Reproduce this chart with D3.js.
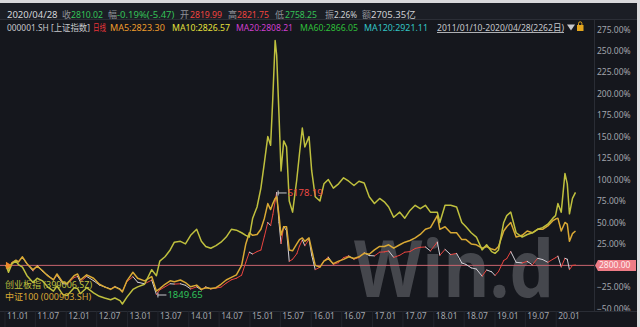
<!DOCTYPE html>
<html>
<head>
<meta charset="utf-8">
<script src="https://cdnjs.cloudflare.com/ajax/libs/d3/7.8.5/d3.min.js"></script>
<style>
  html, body { margin: 0; padding: 0; background: #15171d; }
  svg { display: block; }
  text { font-family: "Noto Sans", "Noto Sans CJK SC", sans-serif; }
</style>
</head>
<body>
<div class="chart"></div>
<script>
// Sample dates (roughly monthly, plus turning points)
const dates = [
  "2011-01-10","2011-01-25","2011-02-15","2011-03-10","2011-03-25","2011-04-18","2011-05-15","2011-06-20",
  "2011-07-15","2011-08-15","2011-09-15","2011-10-20","2011-11-10","2011-12-15","2012-01-10","2012-02-20",
  "2012-03-12","2012-03-28","2012-05-05","2012-06-15","2012-07-20","2012-08-20","2012-09-25","2012-10-20",
  "2012-11-20","2012-12-04","2012-12-31","2013-02-05","2013-03-05","2013-04-15","2013-05-28","2013-06-25",
  "2013-07-15","2013-08-15","2013-09-15","2013-10-10","2013-11-15","2013-12-15","2014-01-15","2014-02-20",
  "2014-03-20","2014-04-15","2014-05-15","2014-06-15","2014-07-15","2014-08-15","2014-09-15","2014-10-15",
  "2014-11-15","2014-12-10","2014-12-31","2015-01-20","2015-02-15","2015-03-10","2015-03-31","2015-04-20",
  "2015-05-07","2015-05-20","2015-06-03","2015-06-12","2015-06-26","2015-07-08","2015-07-24","2015-08-10",
  "2015-08-26","2015-09-15","2015-10-10","2015-10-26","2015-11-12","2015-11-27","2015-12-22","2016-01-07",
  "2016-01-28","2016-02-25","2016-03-20","2016-04-15","2016-05-15","2016-06-15","2016-07-15","2016-08-15",
  "2016-09-15","2016-10-15","2016-11-15","2016-12-15","2017-01-15","2017-02-15","2017-03-15","2017-04-10",
  "2017-05-10","2017-06-15","2017-07-15","2017-08-15","2017-09-15","2017-10-15","2017-11-15","2017-12-15",
  "2018-01-25","2018-02-09","2018-03-12","2018-04-15","2018-05-20","2018-06-20","2018-07-15","2018-08-15",
  "2018-09-15","2018-10-19","2018-11-15","2018-12-15","2019-01-04","2019-01-25","2019-02-25","2019-03-15",
  "2019-04-08","2019-05-10","2019-06-15","2019-07-15","2019-08-15","2019-09-15","2019-10-15","2019-11-15",
  "2019-12-15","2019-12-31","2020-01-14","2020-02-03","2020-02-25","2020-03-10","2020-03-23","2020-04-10",
  "2020-04-28"
];

// 创业板指 (399006.SZ), % change
const cybPct = [
  0, -8, 2, 5, 1, -2, -12, -20,
  -15, -18, -25, -30, -24, -34, -35, -26,
  -27, -33, -26, -32, -36, -38, -40, -38,
  -41, -45, -37, -28, -25, -22, -5, -12,
  5, 10, 18, 27, 28, 25, 35, 42,
  28, 22, 20, 23, 27, 33, 42, 41,
  38, 35, 33, 55, 68, 90, 120, 150,
  140, 195, 262, 245, 175, 110, 145, 138,
  75, 62, 100, 130, 160, 138, 150, 110,
  80, 75, 95, 100, 90, 95, 102, 98,
  93, 98, 96, 80, 72, 78, 74, 68,
  56, 62, 55, 64, 70, 66, 70, 62,
  62, 50, 70, 70, 68, 50, 45, 38,
  33, 18, 24, 16, 14, 18, 50, 58,
  62, 38, 33, 36, 38, 42, 44, 48,
  55, 58, 72, 62, 107, 95, 60, 78,
  85
];

// 中证100 (000903.SH), % change
const zz100Pct = [
  0, -4, 3, 6, 4, 10, 2, -5,
  -1, -6, -12, -17, -10, -20, -21, -12,
  -10, -17, -11, -15, -22, -25, -28, -25,
  -28, -31, -18, -8, -15, -18, -13, -30,
  -27, -22, -18, -19, -17, -20, -25, -23,
  -28, -26, -27, -26, -22, -17, -14, -11,
  0, 25, 38, 35, 36, 42, 55, 72,
  65, 72, 78, 80, 58, 35, 45, 45,
  18, 17, 25, 30, 32, 28, 32, 18,
  0, -2, 5, 8, 2, 5, 7, 10,
  8, 10, 14, 13, 18, 22, 22, 24,
  20, 24, 27, 29, 32, 36, 42, 44,
  58, 42, 45, 38, 38, 30, 30, 25,
  24, 20, 22, 19, 18, 22, 40, 45,
  50, 33, 35, 40, 38, 42, 42, 46,
  52, 54, 55, 40, 50, 48, 28, 37,
  40
];

// 上证指数 (000001.SH) close
const shClose = [
  2800, 2680, 2900, 2950, 2920, 3060, 2850, 2620,
  2800, 2610, 2480, 2330, 2480, 2200, 2190, 2400,
  2440, 2260, 2440, 2300, 2160, 2100, 2030, 2110,
  2030, 1960, 2270, 2430, 2250, 2200, 2320, 1849.65,
  2000, 2100, 2200, 2190, 2200, 2150, 2030, 2100,
  2000, 2100, 2030, 2060, 2090, 2220, 2330, 2380,
  2480, 2900, 3230, 3170, 3250, 3300, 3750, 4200,
  4100, 4450, 4900, 5178.19, 4190, 3510, 4070, 3930,
  2930, 3000, 3180, 3430, 3630, 3440, 3650, 3130,
  2660, 2740, 2950, 3070, 2830, 2890, 3050, 3110,
  3000, 3060, 3210, 3120, 3110, 3230, 3240, 3270,
  3060, 3130, 3230, 3250, 3350, 3390, 3400, 3270,
  3560, 3130, 3320, 3150, 3190, 2880, 2830, 2720,
  2680, 2450, 2650, 2590, 2470, 2600, 2960, 3020,
  3250, 2900, 2880, 2930, 2820, 3030, 2990, 2900,
  3000, 3050, 3100, 2750, 3030, 3000, 2660, 2800,
  2810.02
];

const refLevel = 2800;
const yTicks = [275, 250, 225, 200, 175, 150, 125, 100, 75, 50, 25, -25, -50];
const xTickLabels = ["11.01","11.07","12.01","12.07","13.01","13.07","14.01","14.07","15.01","15.07",
  "16.01","16.07","17.01","17.07","18.01","18.07","19.01","19.07","20.01"];

// Header texts
const quoteTexts = ["2020/04/28", "收", "2810.02", "幅", "-0.19%(-5.47)", "开", "2819.99", "高", "2821.75",
  "低", "2758.25", "振", "2.26%", "额", "2705.35亿"];
const maTexts = ["000001.SH [上证指数]", "日线", "MA5:2823.30", "MA10:2826.57", "MA20:2808.21",
  "MA60:2866.05", "MA120:2921.11"];
const rangeText = "2011/01/10-2020/04/28(2262日)";

// Header layout: start x, max width, colour
const quoteLayout = [
  [7, 53, "#d4d5d9"], [62, 9, "#8e9097"], [71, 32, "#35c257"], [108, 9, "#8e9097"], [117, 58, "#35c257"],
  [180, 9, "#8e9097"], [190, 32, "#f0443f"], [228, 9, "#8e9097"], [237, 32, "#f0443f"], [275, 9, "#8e9097"],
  [285, 32, "#35c257"], [325, 9, "#8e9097"], [334, 23, "#cfd0d4"], [362, 9, "#8e9097"], [371, 47, "#cfd0d4"]
];
const maLayout = [
  [7, 83, "#c6c7cc"], [93, 13, "#e8343a"], [110, 55, "#ee9c2c"], [172, 58, "#e4e03c"],
  [236, 57, "#cf3fcf"], [300, 58, "#2fbf3a"], [364, 64, "#33c4c4"]
];

const colors = { cyb: "#bfc03e", zz: "#d9a934", up: "#e8443f", down: "#d2cfd6", ref: "#c8656f" };

const W = 640, H = 327;
const plotRight = 594, plotTop = 20, plotBottom = 311;

const parse = d3.timeParse("%Y-%m-%d");
const rows = dates.map((d, i) => ({
  date: parse(d),
  cyb: cybPct[i],
  zz: zz100Pct[i],
  shv: shClose[i],
  sh: (shClose[i] / refLevel - 1) * 100
}));

const x = d3.scaleTime()
  .domain([rows[0].date, rows[rows.length - 1].date])
  .range([6, 575.5]);

const y = d3.scaleLinear()
  .domain([-50, 275])
  .range([308.3, 29.3]);

const svg = d3.select(".chart")
  .append("svg")
  .attr("width", W)
  .attr("height", H);

// Background and frame
svg.append("rect").attr("width", W).attr("height", H).attr("fill", "#15171d");
svg.append("rect").attr("x", 0).attr("y", 3).attr("width", W).attr("height", 16.5).attr("fill", "#1b1e25");
svg.append("line").attr("x1", 0).attr("x2", W).attr("y1", 19.5).attr("y2", 19.5).attr("stroke", "#2b2e36");
svg.append("rect").attr("width", W).attr("height", 3).attr("fill", "#d9d9db");
svg.append("rect").attr("x", 637).attr("width", 3).attr("height", H).attr("fill", "#dcdcde");

// Plot area
svg.append("clipPath").attr("id", "plot-clip")
  .append("rect").attr("x", 0).attr("y", plotTop).attr("width", plotRight).attr("height", plotBottom - plotTop);

const plot = svg.append("g").attr("clip-path", "url(#plot-clip)");

// Watermark
plot.append("text")
  .attr("x", 354)
  .attr("y", 297)
  .attr("font-family", "Liberation Sans, Arial, sans-serif")
  .attr("font-weight", "bold")
  .attr("font-size", 78)
  .attr("fill", "#6e6f74")
  .attr("fill-opacity", 0.55)
  .attr("textLength", 200)
  .attr("lengthAdjust", "spacingAndGlyphs")
  .text("Win.d");

// Reference line at 2800
plot.append("line")
  .attr("x1", 0).attr("x2", plotRight)
  .attr("y1", y(0)).attr("y2", y(0))
  .attr("stroke", colors.ref)
  .attr("stroke-width", 1);

// 上证指数: segments coloured by direction
plot.append("g").selectAll("line")
  .data(rows.slice(1).map((d, i) => [rows[i], d]))
  .enter().append("line")
  .attr("x1", (d) => x(d[0].date))
  .attr("y1", (d) => y(d[0].sh))
  .attr("x2", (d) => x(d[1].date))
  .attr("y2", (d) => y(d[1].sh))
  .attr("stroke", (d) => d[1].sh >= d[0].sh ? colors.up : colors.down)
  .attr("stroke-width", 1)
  .attr("stroke-linecap", "round");

// Comparison series
const lineZZ = d3.line().x((d) => x(d.date)).y((d) => y(d.zz));
const lineCYB = d3.line().x((d) => x(d.date)).y((d) => y(d.cyb));

plot.append("path")
  .attr("d", lineZZ(rows))
  .attr("fill", "none")
  .attr("stroke", colors.zz)
  .attr("stroke-width", 1.5)
  .attr("stroke-linejoin", "round");

plot.append("path")
  .attr("d", lineCYB(rows))
  .attr("fill", "none")
  .attr("stroke", colors.cyb)
  .attr("stroke-width", 1.5)
  .attr("stroke-linejoin", "round");

// Start marker
plot.append("path")
  .attr("d", d3.symbol().type(d3.symbolTriangle).size(22)())
  .attr("transform", "translate(" + (x(rows[0].date) + 2) + "," + y(0) + ") rotate(90)")
  .attr("fill", "#ee8a2c");

// Max / min labels of 上证指数
const hi = rows.reduce((a, b) => b.shv > a.shv ? b : a);
const lo = rows.reduce((a, b) => b.shv < a.shv ? b : a);

[[hi, "#ee4a44"], [lo, "#30c25a"]].forEach(([d, c]) => {
  const px = x(d.date), py = y(d.sh);
  plot.append("line").attr("x1", px + 1).attr("x2", px + 10).attr("y1", py + 0.5).attr("y2", py + 0.5)
    .attr("stroke", "#c8c8cc").attr("stroke-width", 1);
  plot.append("line").attr("x1", px + 1.5).attr("x2", px + 1.5).attr("y1", py - 2).attr("y2", py + 3)
    .attr("stroke", "#c8c8cc").attr("stroke-width", 1);
  plot.append("text")
    .attr("x", px + 11)
    .attr("y", py + 3.5)
    .attr("font-size", 9.5)
    .attr("fill", c)
    .text(d3.format(".2f")(d.shv));
});

// Legend
plot.append("text").attr("x", 5).attr("y", 287.5).attr("font-size", 9)
  .attr("fill", colors.cyb).text("创业板指 (399006.SZ)");
plot.append("text").attr("x", 5).attr("y", 299.5).attr("font-size", 9)
  .attr("fill", colors.zz).text("中证100 (000903.SH)");

// Right axis
svg.append("line")
  .attr("x1", plotRight + 0.5).attr("x2", plotRight + 0.5)
  .attr("y1", plotTop).attr("y2", plotBottom)
  .attr("stroke", "#2a2d35");

const yAxis = svg.append("g")
  .attr("transform", "translate(597,0)")
  .call(d3.axisRight(y).tickValues(yTicks).tickSize(0).tickPadding(0)
    .tickFormat((d) => d3.format(".2f")(d) + "%"));
yAxis.select(".domain").remove();
yAxis.selectAll("text")
  .attr("fill", "#a2a5ac")
  .attr("font-size", 8.5)
  .attr("font-family", "Noto Sans, sans-serif");

// 2800 tag
svg.append("path")
  .attr("d", "M595," + y(0) + " L598," + (y(0) - 5.5) + " H636 V" + (y(0) + 5.5) + " H598 Z")
  .attr("fill", "#ee7c86");
svg.append("text")
  .attr("x", 599)
  .attr("y", y(0) + 3)
  .attr("font-size", 8.5)
  .attr("fill", "#ffecee")
  .text(d3.format(".2f")(refLevel));

// Bottom axis band
svg.append("rect").attr("x", 0).attr("y", plotBottom).attr("width", 637).attr("height", H - plotBottom)
  .attr("fill", "#15171d");
svg.append("line").attr("x1", 0).attr("x2", 637).attr("y1", plotBottom + 0.5).attr("y2", plotBottom + 0.5)
  .attr("stroke", "#2a2d35");

const tickDates = xTickLabels.map((s) => d3.timeParse("%y.%m")(s));
const xAxis = svg.append("g")
  .attr("transform", "translate(0," + plotBottom + ")")
  .call(d3.axisBottom(x).tickValues(tickDates).tickSize(16)
    .tickFormat((d, i) => xTickLabels[i]));
xAxis.select(".domain").remove();
xAxis.selectAll(".tick line").attr("stroke", "#23262e");
xAxis.selectAll("text")
  .attr("text-anchor", "start")
  .attr("x", 2)
  .attr("y", 2)
  .attr("fill", "#a2a5ac")
  .attr("font-size", 8.5)
  .attr("font-family", "Noto Sans, sans-serif");

// Header rows: squeeze a text only if it runs past its slot
const fit = function (d) {
  const w = this.getComputedTextLength();
  if (w > d[1]) d3.select(this).attr("textLength", d[1]).attr("lengthAdjust", "spacingAndGlyphs");
};

const head = svg.append("g");
head.selectAll(".q").data(quoteLayout).enter().append("text")
  .attr("class", "q")
  .attr("x", (d) => d[0]).attr("y", 17.5)
  .attr("font-size", 9.5)
  .attr("fill", (d) => d[2])
  .text((d, i) => quoteTexts[i])
  .each(fit);

head.selectAll(".m").data(maLayout).enter().append("text")
  .attr("class", "m")
  .attr("x", (d) => d[0]).attr("y", 31)
  .attr("font-size", 9)
  .attr("fill", (d) => d[2])
  .text((d, i) => maTexts[i])
  .each(fit);

const rt = head.append("text")
  .attr("x", 437).attr("y", 31)
  .attr("font-size", 8.7)
  .attr("fill", "#c6c7cc")
  .attr("text-decoration", "underline")
  .text(rangeText);
const rtEnd = 437 + Math.min(127, rt.node().getComputedTextLength());
if (rt.node().getComputedTextLength() > 127) rt.attr("textLength", 127).attr("lengthAdjust", "spacingAndGlyphs");

head.append("path")
  .attr("d", "M" + (rtEnd + 3) + ",24.5 h8 l-4,6 z")
  .attr("fill", "#c6c7cc");
head.append("rect")
  .attr("x", rtEnd + 13).attr("y", 25).attr("width", 6.5).attr("height", 6)
  .attr("fill", "#e2a51e");
head.append("path")
  .attr("d", "M" + (rtEnd + 14.5) + ",25 v-1.5 a1.7,1.7 0 0 1 3.4,0 v1.5")
  .attr("fill", "none").attr("stroke", "#e2a51e").attr("stroke-width", 1);
</script>
</body>
</html>
